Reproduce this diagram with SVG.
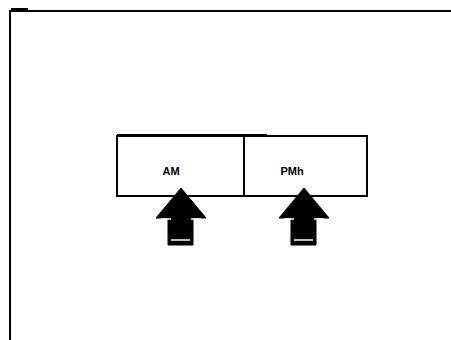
<svg xmlns="http://www.w3.org/2000/svg" width="451" height="340" viewBox="0 0 451 340">
<style>
.frame{fill:none;stroke:#000;stroke-width:2}
.box{fill:#fff;stroke:#000;stroke-width:2}
.lbl{font-family:"Liberation Sans",Arial,sans-serif;font-weight:bold;font-size:11px;fill:#000;text-anchor:middle}
.arrow{fill:#000;stroke:#000;stroke-width:1}
.hl{stroke:#fff;stroke-width:1.5}
</style>
<defs>
<g id="blockArrow">
<polygon class="arrow" points="0,0 25,30 12,30 12,57 -13,57 -13,30 -25,30"/>
<line class="hl" x1="-20" y1="31" x2="-10" y2="31"/>
<line class="hl" x1="10" y1="31" x2="20" y2="31"/>
<line class="hl" x1="-10" y1="52" x2="9" y2="52"/>
</g>
</defs>
<g id="frame">
<path class="frame" d="M10,340 V11 H451"/>
<rect x="11" y="8" width="17" height="3" fill="#000"/>
</g>
<g id="node-am">
<rect class="box" x="117" y="136" width="127" height="60"/>
<line x1="117" y1="135" x2="267" y2="135" stroke="#000" stroke-width="2"/>
<text class="lbl" x="171" y="175">AM</text>
</g>
<g id="node-pm">
<rect class="box" x="244" y="136" width="123" height="60"/>
<text class="lbl" x="292" y="175">PMh</text>
</g>
<g id="connectors">
<use href="#blockArrow" x="181" y="188"/>
<use href="#blockArrow" x="304" y="188"/>
</g>
</svg>
